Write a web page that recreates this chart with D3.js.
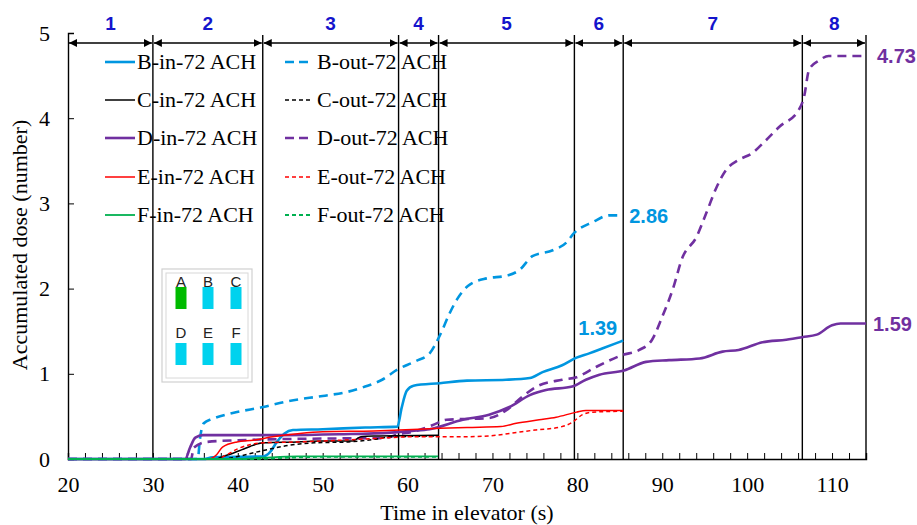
<!DOCTYPE html>
<html>
<head>
<meta charset="utf-8">
<script src="https://cdn.jsdelivr.net/npm/d3@7/dist/d3.min.js"></script>
<style>
  html, body { margin: 0; padding: 0; background: #fff; }
  svg { display: block; }
  .serif { font-family: "Liberation Serif", "Times New Roman", Times, "DejaVu Serif", serif; }
  .sans { font-family: "Liberation Sans", Arial, Helvetica, sans-serif; }
</style>
</head>
<body>
<svg id="chart" width="917" height="525"></svg>
<script>
// Accumulated dose per seat, [time (s), dose]
const B_in = [[20,0],[36,0],[37,0.02],[43,0.03],[43.8,0.08],[44.6,0.2],[45.5,0.3],[46.5,0.34],[50,0.35],[55,0.37],[58.8,0.38],[59.3,0.6],[59.9,0.8],[60.7,0.86],[63.8,0.89],[67,0.92],[71.6,0.93],[74.4,0.95],[75.9,1.02],[78.2,1.1],[79.9,1.19],[81.4,1.24],[83,1.3],[84.6,1.36],[85.4,1.39]];
const B_out = [[20,0],[35.3,0],[35.5,0.2],[36,0.42],[37,0.47],[39.4,0.54],[43,0.61],[46,0.68],[50,0.74],[53,0.79],[55,0.85],[57,0.93],[58.8,1.05],[61,1.15],[62.6,1.24],[63.8,1.45],[65,1.72],[65.8,1.87],[67.1,2.03],[69.3,2.12],[71.6,2.15],[73.2,2.22],[74.7,2.38],[77.1,2.45],[78.7,2.54],[79.6,2.65],[81.8,2.78],[83.8,2.86],[85.4,2.86]];
const C_in = [[20,0],[37.5,0],[38,0.02],[39.5,0.07],[40.5,0.11],[41.5,0.15],[43,0.19],[47,0.2],[50,0.21],[53.5,0.21],[54.5,0.26],[56,0.27],[63.6,0.28]];
const C_out = [[20,0],[38,0],[40,0.03],[43,0.1],[46,0.16],[49,0.19],[53,0.2],[56,0.23],[58,0.26],[63.6,0.27]];
const D_in = [[20,0],[33.8,0],[34.4,0.14],[35,0.25],[35.9,0.28],[45,0.28],[52,0.29],[58,0.31],[60.5,0.33],[62.6,0.35],[66.5,0.46],[69.6,0.52],[72,0.61],[74.4,0.75],[76.3,0.81],[79.4,0.85],[81,0.93],[82.6,0.99],[85.5,1.04],[88.1,1.14],[90.8,1.16],[94.4,1.18],[97.1,1.26],[99,1.28],[101.8,1.37],[104.6,1.4],[106.5,1.43],[108.2,1.46],[110,1.57],[111,1.59],[114,1.59]];
const D_out = [[20,0],[34.5,0],[34.8,0.13],[36.3,0.2],[40,0.22],[50,0.24],[57,0.245],[59,0.29],[61,0.33],[63,0.4],[64.6,0.46],[69.6,0.48],[71.6,0.57],[73.5,0.73],[75.2,0.85],[78.2,0.93],[79.9,0.96],[82.2,1.08],[85.3,1.22],[87.3,1.28],[88.8,1.4],[90,1.67],[91.2,1.98],[92.4,2.37],[94,2.6],[95.2,2.89],[96.4,3.19],[97.5,3.39],[99,3.51],[100.6,3.59],[102.2,3.74],[103.8,3.9],[106.1,4.1],[106.7,4.25],[107.3,4.57],[108.5,4.68],[109.6,4.73],[114,4.73]];
const E_in = [[20,0],[36.5,0],[37.5,0.05],[38.2,0.14],[39.9,0.2],[41.8,0.22],[44.1,0.26],[47.3,0.3],[50,0.32],[56,0.33],[59,0.34],[63.8,0.36],[67,0.37],[71,0.38],[72.8,0.42],[75.5,0.46],[77.5,0.49],[79.9,0.55],[81,0.57],[85.4,0.57]];
const E_out = [[20,0],[37.5,0],[38.5,0.04],[40,0.12],[41.5,0.17],[43,0.19],[47,0.2],[52,0.22],[57,0.245],[60,0.26],[66,0.26],[69.5,0.27],[72,0.3],[75,0.34],[78,0.375],[79.4,0.43],[80.6,0.52],[81.8,0.55],[85.4,0.56]];
const F_in = [[20,0],[40,0],[43,0.015],[47,0.03],[63.6,0.03]];
const F_out = [[20,0],[42,0],[46,0.015],[50,0.025],[63.6,0.025]];

// Phase boundaries (s) and phase numbers
const phaseBounds = [20, 30, 42.94, 58.94, 63.65, 79.65, 85.4, 106.5, 114];
const phaseLabels = ["1","2","3","4","5","6","7","8"];

const xTicks = [20,30,40,50,60,70,80,90,100,110];
const yTicks = [0,1,2,3,4,5];

const seatColors = { B: "#0096e0", C: "#000000", D: "#7030a0", E: "#ff0000", F: "#00b050" };

const series = [
  { name: "B-in-72 ACH",  seat: "B", data: B_in,  dashed: false, width: 2.6 },
  { name: "C-in-72 ACH",  seat: "C", data: C_in,  dashed: false, width: 1.5 },
  { name: "D-in-72 ACH",  seat: "D", data: D_in,  dashed: false, width: 2.6 },
  { name: "E-in-72 ACH",  seat: "E", data: E_in,  dashed: false, width: 1.5 },
  { name: "F-in-72 ACH",  seat: "F", data: F_in,  dashed: false, width: 1.8 },
  { name: "B-out-72 ACH", seat: "B", data: B_out, dashed: true,  width: 2.6 },
  { name: "C-out-72 ACH", seat: "C", data: C_out, dashed: true,  width: 1.5 },
  { name: "D-out-72 ACH", seat: "D", data: D_out, dashed: true,  width: 2.6 },
  { name: "E-out-72 ACH", seat: "E", data: E_out, dashed: true,  width: 1.5 },
  { name: "F-out-72 ACH", seat: "F", data: F_out, dashed: true,  width: 1.8 }
];

// Final-value annotations
const endLabels = [
  { text: "2.86", seat: "B", data: B_out, dx: 6,  dy: 0,   anchor: "start" },
  { text: "1.39", seat: "B", data: B_in,  dx: -6, dy: -13, anchor: "end" },
  { text: "1.59", seat: "D", data: D_in,  dx: 7,  dy: 0,   anchor: "start" },
  { text: "4.73", seat: "D", data: D_out, dx: 11, dy: 0,   anchor: "start" }
];

// Seat layout inset
const seatRows = [["A","B","C"],["D","E","F"]];
const infectedSeat = "A";

const svg = d3.select("#chart");

const x = d3.scaleLinear().domain([20, 114]).range([68, 866]);
const y = d3.scaleLinear().domain([0, 5]).range([459, 33]);

function dashFor(s) {
  if (!s.dashed) return null;
  return s.width > 2 ? "9,6" : "4,3";
}

// Phase boundary lines
svg.append("g").selectAll("line")
  .data(phaseBounds.slice(1))
  .join("line")
  .attr("x1", d => x(d)).attr("x2", d => x(d))
  .attr("y1", 35).attr("y2", y(0))
  .attr("stroke", "#000").attr("stroke-width", 1.4);

// Arrowheads
const defs = svg.append("defs");
defs.append("marker").attr("id", "ah-end")
  .attr("viewBox", "0 0 10 10").attr("refX", 10).attr("refY", 5)
  .attr("markerWidth", 8).attr("markerHeight", 8).attr("markerUnits", "userSpaceOnUse")
  .attr("orient", "auto")
  .append("path").attr("d", "M0,0 L10,5 L0,10 Z").attr("fill", "#000");
defs.append("marker").attr("id", "ah-start")
  .attr("viewBox", "0 0 10 10").attr("refX", 0).attr("refY", 5)
  .attr("markerWidth", 8).attr("markerHeight", 8).attr("markerUnits", "userSpaceOnUse")
  .attr("orient", "auto")
  .append("path").attr("d", "M10,0 L0,5 L10,10 Z").attr("fill", "#000");

const phases = phaseLabels.map((p, i) => ({ label: p, a: phaseBounds[i], b: phaseBounds[i + 1] }));

svg.append("g").selectAll("line")
  .data(phases)
  .join("line")
  .attr("x1", d => x(d.a) + 1).attr("x2", d => x(d.b) - 1)
  .attr("y1", 43).attr("y2", 43)
  .attr("stroke", "#000").attr("stroke-width", 1.4)
  .attr("marker-start", "url(#ah-start)")
  .attr("marker-end", "url(#ah-end)");

svg.append("g").selectAll("text")
  .data(phases)
  .join("text")
  .attr("class", "sans")
  .attr("x", d => (x(d.a) + x(d.b)) / 2)
  .attr("y", 30)
  .attr("text-anchor", "middle")
  .attr("font-weight", "bold").attr("font-size", 19)
  .attr("fill", "#1414cc")
  .text(d => d.label);

// Axes
const xAxis = d3.axisBottom(x).tickValues(d3.range(20, 115, 2))
  .tickSize(-6).tickPadding(17)
  .tickFormat(d => xTicks.includes(d) ? d : "");
const gx = svg.append("g").attr("transform", `translate(0,${y(0)})`).call(xAxis);
gx.attr("font-family", null);
gx.select(".domain").attr("stroke", "#000").attr("stroke-width", 1.4);
gx.selectAll(".tick line").attr("stroke", "#000").attr("stroke-width", 1);
gx.selectAll(".tick text").attr("class", "serif").attr("font-size", 22).attr("fill", "#000");

const yAxis = d3.axisLeft(y).tickValues(yTicks).tickSize(-6).tickPadding(18).tickFormat(d3.format("d"));
const gy = svg.append("g").attr("transform", `translate(${x(20)},0)`).call(yAxis);
gy.attr("font-family", null);
gy.select(".domain").attr("stroke", "#000").attr("stroke-width", 1.4);
gy.selectAll(".tick line").attr("stroke", "#000").attr("stroke-width", 1);
gy.selectAll(".tick text").attr("class", "serif").attr("font-size", 22).attr("fill", "#000");

svg.append("text")
  .attr("class", "serif")
  .attr("x", 467).attr("y", 520).attr("text-anchor", "middle")
  .attr("font-size", 22).attr("fill", "#000")
  .text("Time in elevator (s)");

svg.append("text")
  .attr("class", "serif")
  .attr("transform", "translate(27,245) rotate(-90)")
  .attr("text-anchor", "middle")
  .attr("font-size", 22).attr("fill", "#000")
  .text("Accumulated dose (number)");

// Dose curves
const line = d3.line().x(d => x(d[0])).y(d => y(d[1])).curve(d3.curveMonotoneX);
const drawOrder = ["B","D","C","E","F"];
const ordered = drawOrder.flatMap(s => series.filter(d => d.seat === s).reverse());
svg.append("g").selectAll("path")
  .data(ordered)
  .join("path")
  .attr("d", d => line(d.data))
  .attr("fill", "none")
  .attr("stroke", d => seatColors[d.seat])
  .attr("stroke-width", d => d.width)
  .attr("stroke-dasharray", d => dashFor(d))
  .attr("stroke-linejoin", "round");

// End-value labels
svg.append("g").selectAll("text")
  .data(endLabels)
  .join("text")
  .attr("class", "sans")
  .attr("x", d => x(d.data[d.data.length - 1][0]) + d.dx)
  .attr("y", d => y(d.data[d.data.length - 1][1]) + d.dy)
  .attr("dy", "0.36em")
  .attr("text-anchor", d => d.anchor)
  .attr("font-weight", "bold").attr("font-size", 20)
  .attr("fill", d => seatColors[d.seat])
  .text(d => d.text);

// Legend: two columns of five
const legend = svg.append("g");
const legendRowY = [62, 100, 138, 177, 215];
const legendCols = [{ x0: 105, x1: 135, tx: 137 }, { x0: 285, x1: 313, tx: 317 }];
series.forEach((s, i) => {
  const col = legendCols[s.dashed ? 1 : 0];
  const ry = legendRowY[i % 5];
  legend.append("line")
    .attr("x1", col.x0).attr("x2", col.x1).attr("y1", ry).attr("y2", ry)
    .attr("stroke", seatColors[s.seat])
    .attr("stroke-width", s.width)
    .attr("stroke-dasharray", s.dashed ? (s.width > 2 ? "9,5" : "4,3") : null);
  legend.append("text")
    .attr("class", "serif")
    .attr("x", col.tx).attr("y", ry).attr("dy", "0.34em")
    .attr("font-size", 22).attr("fill", "#000")
    .text(s.name);
});

// Seat layout inset
const inset = svg.append("g");
inset.append("rect").attr("x", 162).attr("y", 269).attr("width", 90).attr("height", 113)
  .attr("fill", "#fff").attr("stroke", "#d0d0d0").attr("stroke-width", 1.2);
inset.append("rect").attr("x", 166).attr("y", 273).attr("width", 82).attr("height", 105)
  .attr("fill", "none").attr("stroke", "#d8d8d8").attr("stroke-width", 1);
const seatX = [181, 208, 236];
const rowLetterY = [282, 333];
const rowRectY = [287, 343];
seatRows.forEach((row, ri) => {
  row.forEach((seat, ci) => {
    inset.append("text")
      .attr("class", "sans")
      .attr("x", seatX[ci]).attr("y", rowLetterY[ri]).attr("dy", "0.35em")
      .attr("text-anchor", "middle")
      .attr("font-size", 15).attr("fill", "#222")
      .text(seat);
    inset.append("rect")
      .attr("x", seatX[ci] - 5.5).attr("y", rowRectY[ri])
      .attr("width", 11).attr("height", 22)
      .attr("fill", seat === infectedSeat ? "#00bb00" : "#00d2ee");
  });
});
</script>
</body>
</html>
